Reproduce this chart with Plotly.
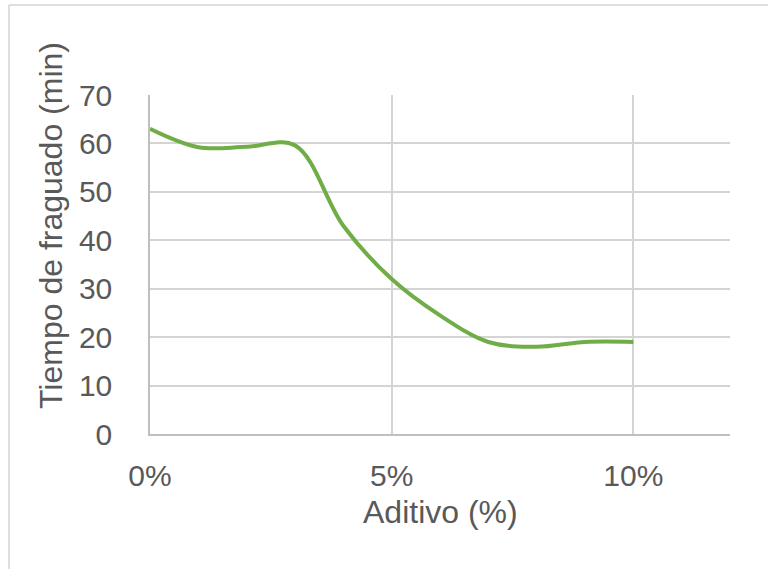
import plotly.graph_objects as go

# Setting time vs. additive dosage
aditivo_pct = [0, 1, 2, 3, 4, 5, 6, 7, 8, 9, 10]
tiempo_min = [63, 59.2, 59.3, 59.6, 43, 32, 24.5, 19, 18, 19, 19]

x_ticks = [0, 5, 10]
x_tick_labels = [f"{v}%" for v in x_ticks]
y_ticks = [0, 10, 20, 30, 40, 50, 60, 70]

TEXT = "#595959"
GRID = "#d4d4d4"
FONT = "Liberation Sans, Arial, sans-serif"

W, H = 768, 569
L, R, T, B = 150, 38, 95, 135
pw, ph = W - L - R, H - T - B


def px_x(p):
    return (p - L) / pw


def px_y(p):
    return (H - B - p) / ph


fig = go.Figure()
fig.add_trace(go.Scatter(
    x=aditivo_pct, y=tiempo_min, mode="lines",
    line=dict(color="#70ad47", width=4, shape="spline", smoothing=1),
    hoverinfo="x+y", showlegend=False,
))

fig.update_layout(
    width=W, height=H,
    margin=dict(l=L, r=R, t=T, b=B),
    paper_bgcolor="white", plot_bgcolor="white",
    font=dict(family=FONT, color=TEXT, size=30),
    xaxis=dict(
        range=[0, 12], tickvals=x_ticks, ticktext=x_tick_labels,
        showgrid=True, gridcolor=GRID, gridwidth=1.5,
        showline=True, linecolor="#bfbfbf", linewidth=1.5,
        zeroline=False, ticks="", ticklabelstandoff=14,
        tickfont=dict(size=30, color=TEXT),
    ),
    yaxis=dict(
        range=[0, 70], tickvals=y_ticks,
        showgrid=True, gridcolor=GRID, gridwidth=1.5,
        showline=True, linecolor="#bfbfbf", linewidth=1.5,
        zeroline=False, ticks="", ticklabelstandoff=30,
        tickfont=dict(size=30, color=TEXT),
    ),
    annotations=[
        dict(text="Aditivo (%)", xref="paper", yref="paper",
             x=px_x(440), y=px_y(512), xanchor="center", yanchor="middle",
             showarrow=False, font=dict(size=32, color=TEXT)),
        dict(text="Tiempo de fraguado (min)", xref="paper", yref="paper",
             x=px_x(51), y=px_y(226), xanchor="center", yanchor="middle",
             textangle=-90, showarrow=False, font=dict(size=32, color=TEXT)),
    ],
    shapes=[
        dict(type="line", xref="paper", yref="paper",
             x0=px_x(9), x1=px_x(9), y0=px_y(5), y1=px_y(H + 10),
             line=dict(color=GRID, width=1.5)),
        dict(type="line", xref="paper", yref="paper",
             x0=px_x(9), x1=px_x(W + 10), y0=px_y(5), y1=px_y(5),
             line=dict(color=GRID, width=1.5)),
    ],
)

fig.write_html("out.html")
